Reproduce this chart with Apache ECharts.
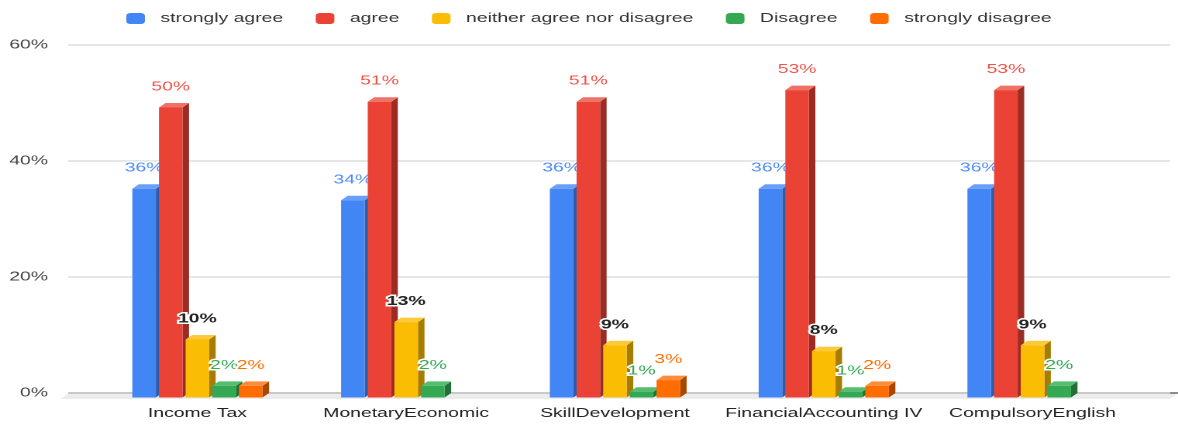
<!DOCTYPE html>
<html>
<head>
<meta charset="utf-8">
<script src="https://cdn.jsdelivr.net/npm/echarts@6/dist/echarts.min.js"></script>
<style>
  html, body { margin: 0; padding: 0; background: #fff; overflow: hidden; }
  /* the source picture is a chart stretched sideways, so the canvas is too */
  #main { width: 760px; height: 428px; transform: scaleX(1.55); transform-origin: 0 0; }
</style>
</head>
<body>
<div id="main"></div>
<script>
// data
const categories = ['Income Tax', 'MonetaryEconomic', 'SkillDevelopment', 'FinancialAccounting IV', 'CompulsoryEnglish']
const seriesNames = ['strongly agree', 'agree', 'neither agree nor disagree', 'Disagree', 'strongly disagree']
const stronglyAgree = [36, 34, 36, 36, 36]
const agree = [50, 51, 51, 53, 53]
const neither = [10, 13, 9, 8, 9]
const disagree = [2, 2, 1, 1, 2]
const stronglyDisagree = [2, null, 3, 2, null]
const yTicks = [0, 20, 40, 60]

// colours: front, top, side, label
const palette = [
  { front: '#4285F4', top: '#6a9ff7', side: '#2c5cad', label: '#4f8ef5', bold: false },
  { front: '#EA4335', top: '#f07166', side: '#9c2b23', label: '#ee5348', bold: false },
  { front: '#FBBC04', top: '#fcc93a', side: '#a67c02', label: '#222222', bold: true },
  { front: '#34A853', top: '#55bd70', side: '#226f37', label: '#34A853', bold: false },
  { front: '#FF6D01', top: '#ff8c3a', side: '#a94700', label: '#FF6D01', bold: false }
]
const values = [stronglyAgree, agree, neither, disagree, stronglyDisagree]

const FONT = 'Liberation Sans, Arial, sans-serif'
const FS = 12.5
// bar geometry (px in the unstretched canvas)
const BAR_W = 15.2
const PITCH = 17.2
const DX = 4.2
const DY = 4.5
const GROUP_HALF = (4 * PITCH + BAR_W) / 2
const LABEL_GAP = 16

const W = 760
const BASE_Y = 393

const chart = echarts.init(document.getElementById('main'), null, { devicePixelRatio: 2 })

const makeRender = (k) => (params, api) => {
  const v = api.value(1)
  if (v == null || isNaN(v)) return null
  const c = palette[k]
  const base = api.coord([api.value(0), 0])
  const top = api.coord([api.value(0), v])
  const fl = base[0] - GROUP_HALF + k * PITCH
  const fr = fl + BAR_W
  const ft = top[1] + DY
  const fb = base[1] + DY
  return {
    type: 'group',
    children: [
      { type: 'polygon', shape: { points: [[fr, ft], [fr + DX, ft - DY], [fr + DX, fb - DY], [fr, fb]] }, style: { fill: c.side } },
      { type: 'polygon', shape: { points: [[fl, ft], [fr, ft], [fr + DX, ft - DY], [fl + DX, ft - DY]] }, style: { fill: c.top } },
      { type: 'rect', shape: { x: fl, y: ft, width: BAR_W, height: fb - ft }, style: { fill: c.front } },
      {
        type: 'text',
        style: {
          text: v + '%',
          x: fl + BAR_W / 2,
          y: top[1] - LABEL_GAP,
          align: 'center',
          verticalAlign: 'middle',
          fill: c.label,
          stroke: '#fff',
          lineWidth: 3,
          fontSize: FS,
          fontFamily: FONT,
          fontWeight: c.bold ? 'bold' : 'normal'
        }
      }
    ]
  }
}

const option = {
  animation: false,
  color: palette.map(p => p.front),
  legend: {
    top: 7,
    left: 'center',
    icon: 'roundRect',
    itemWidth: 12,
    itemHeight: 11,
    itemGap: 21,
    data: seriesNames,
    textStyle: { fontSize: FS, fontFamily: FONT, color: '#333', padding: [0, 0, 0, 5] }
  },
  graphic: [
    // floor under the bars
    { type: 'polygon', z: 0, shape: { points: [[44, BASE_Y], [W, BASE_Y], [W - 5, BASE_Y + 6], [39, BASE_Y + 6]] }, style: { fill: '#ececec' } },
    { type: 'line', z: 0, shape: { x1: 44, y1: BASE_Y, x2: W, y2: BASE_Y }, style: { stroke: '#8c8c8c', lineWidth: 2 } }
  ],
  grid: [
    { left: 44, right: 5, top: 45, bottom: 35 },
    { left: 60, right: 26.5, top: 45, bottom: 35 }
  ],
  xAxis: [
    { gridIndex: 0, type: 'value', show: false },
    {
      gridIndex: 1,
      type: 'category',
      data: categories,
      axisLine: { show: false },
      axisTick: { show: false },
      axisLabel: { interval: 0, margin: 14, color: '#222', fontSize: FS, fontFamily: FONT }
    }
  ],
  yAxis: [
    {
      gridIndex: 0,
      type: 'value',
      min: yTicks[0],
      max: yTicks[yTicks.length - 1],
      interval: 20,
      axisLine: { show: false },
      axisTick: { show: false },
      axisLabel: { margin: 13, color: '#444', fontSize: FS, fontFamily: FONT, formatter: '{value}%' },
      splitLine: { lineStyle: { color: '#dedede', width: 1.5 } }
    },
    { gridIndex: 1, type: 'value', min: 0, max: 60, show: false }
  ],
  series: seriesNames.map((name, k) => ({
    name,
    type: 'custom',
    xAxisIndex: 1,
    yAxisIndex: 1,
    itemStyle: { color: palette[k].front },
    renderItem: makeRender(k),
    encode: { x: 0, y: 1 },
    data: values[k].map((v, i) => [i, v == null ? '-' : v])
  }))
}

chart.setOption(option)
</script>
</body>
</html>
